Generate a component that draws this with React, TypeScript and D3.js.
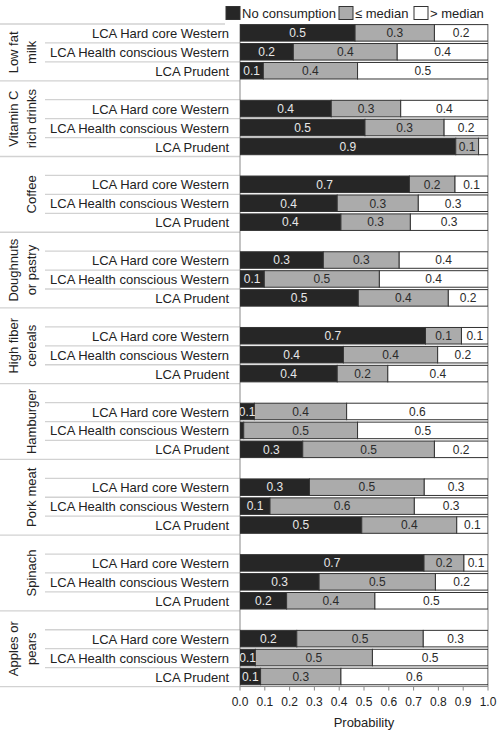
import React from "react";
import * as d3 from "d3";

const groupLabels: string[][] = [
  ["Low fat", "milk"],
  ["Vitamin C", "rich drinks"],
  ["Coffee"],
  ["Doughnuts", "or pastry"],
  ["High fiber", "cereals"],
  ["Hamburger"],
  ["Pork meat"],
  ["Spinach"],
  ["Apples or", "pears"],
];
const classes = ["LCA Hard core Western", "LCA Health conscious Western", "LCA Prudent"];
const seriesNames = ["No consumption", "≤ median", "> median"];

const noConsumption = [
  [0.464, 0.215, 0.094],
  [0.368, 0.504, 0.87],
  [0.683, 0.392, 0.407],
  [0.336, 0.098, 0.477],
  [0.748, 0.417, 0.392],
  [0.058, 0.015, 0.253],
  [0.28, 0.121, 0.491],
  [0.742, 0.319, 0.188],
  [0.229, 0.062, 0.083],
];
const leMedian = [
  [0.32, 0.419, 0.38],
  [0.28, 0.319, 0.092],
  [0.184, 0.327, 0.28],
  [0.306, 0.464, 0.363],
  [0.145, 0.38, 0.204],
  [0.372, 0.459, 0.531],
  [0.463, 0.582, 0.383],
  [0.161, 0.469, 0.356],
  [0.51, 0.472, 0.324],
];
const gtMedian = [
  [0.216, 0.366, 0.526],
  [0.352, 0.177, 0.038],
  [0.133, 0.281, 0.313],
  [0.358, 0.438, 0.16],
  [0.107, 0.203, 0.404],
  [0.57, 0.526, 0.216],
  [0.257, 0.297, 0.126],
  [0.097, 0.212, 0.456],
  [0.261, 0.466, 0.593],
];
const xTicks = [0, 0.1, 0.2, 0.3, 0.4, 0.5, 0.6, 0.7, 0.8, 0.9, 1.0];

const W = 498;
const H = 732;
const FONT = "'Liberation Sans', Arial, sans-serif";
const fills = ["#262626", "#ababab", "#ffffff"];

type Row = { key: string; g: number; c: number; blank: boolean };

export default function App() {
  const rows: Row[] = [];
  groupLabels.forEach((_, g) => {
    if (g > 0) rows.push({ key: `b${g}`, g, c: -1, blank: true });
    classes.forEach((_, c) => rows.push({ key: `r${g}_${c}`, g, c, blank: false }));
  });
  const top = 24;
  const rowH = 18.93;
  const bottom = top + rows.length * rowH;
  const y = d3.scaleBand<string>().domain(rows.map((r) => r.key)).range([top, bottom]).padding(0);
  const x = d3.scaleLinear().domain([0, 1]).range([240, 488]);

  const table = rows
    .filter((r) => !r.blank)
    .map((r) => ({
      key: r.key,
      s0: noConsumption[r.g][r.c],
      s1: leMedian[r.g][r.c],
      s2: gtMedian[r.g][r.c],
    }));
  const stack = d3.stack<any>().keys(["s0", "s1", "s2"])(table);
  const bw = y.bandwidth();
  const barH = bw - 2.4;

  // group spans
  const groupSpans = groupLabels.map((_, g) => {
    const rs = rows.filter((r) => r.g === g);
    const y0 = y(rs[0].key)!;
    const y1 = y(rs[rs.length - 1].key)! + bw;
    return { y0, y1 };
  });

  return (
    <svg width={W} height={H} style={{ position: "absolute", left: 0, top: 0, fontFamily: FONT }}>
      <rect width={W} height={H} fill="#fff" />
      {/* legend */}
      {(() => {
        const items = [
          { x: 226, tx: 242 },
          { x: 339, tx: 355 },
          { x: 414, tx: 430 },
        ];
        return items.map((it, i) => (
          <g key={i}>
            <rect x={it.x} y={6.5} width={14} height={13} fill={fills[i]} stroke="#333" strokeWidth={1} />
            <text x={it.tx} y={17.5} fontSize={13} fill="#222">
              {seriesNames[i]}
            </text>
          </g>
        ));
      })()}
      {/* row separator lines */}
      {rows.map((r, i) => {
        const yy = y(r.key)!;
        const isGroupTop = i === 0 || r.blank;
        return (
          <line
            key={"sep" + r.key}
            x1={isGroupTop ? 0 : 45}
            x2={i === 0 ? 225 : 240}
            y1={yy}
            y2={yy}
            stroke="#d2d2d2"
            strokeWidth={1.3}
          />
        );
      })}
      <line x1={0} x2={240} y1={bottom} y2={bottom} stroke="#d2d2d2" strokeWidth={1.3} />
      {/* row labels */}
      {rows
        .filter((r) => !r.blank)
        .map((r) => (
          <text
            key={"lab" + r.key}
            x={229}
            y={y(r.key)! + bw / 2 + 4.5}
            textAnchor="end"
            fontSize={13}
            fill="#222"
          >
            {classes[r.c]}
          </text>
        ))}
      {/* group labels */}
      {groupLabels.map((lines, g) => {
        const cy = (groupSpans[g].y0 + groupSpans[g].y1) / 2;
        const n = lines.length;
        return (
          <g key={"g" + g}>
            {lines.map((ln, k) => (
              <text
                key={k}
                transform={`translate(${36 - (n - 1 - k) * 18},${cy}) rotate(-90)`}
                textAnchor="middle"
                fontSize={13}
                fill="#222"
              >
                {ln}
              </text>
            ))}
          </g>
        );
      })}
      {/* plot frame */}
      <defs>
        <clipPath id="plotclip">
          <rect x={x(0)} y={top - 2} width={x(1) - x(0)} height={bottom - top + 4} />
        </clipPath>
      </defs>
      <line x1={x(0)} x2={x(0)} y1={top} y2={bottom} stroke="#888" strokeWidth={1} />
      <line x1={x(1)} x2={x(1)} y1={top} y2={bottom} stroke="#888" strokeWidth={1} />
      {/* bars */}
      <g clipPath="url(#plotclip)">
        {stack.map((s, si) =>
          s.map((d: any, j: number) => {
            const key = table[j].key;
            const x0 = x(d[0]);
            const x1 = x(d[1]);
            const yy = y(key)! + 0.6;
            return (
              <rect
                key={`b${si}_${j}`}
                x={x0}
                y={yy}
                width={Math.max(0, x1 - x0)}
                height={barH}
                fill={fills[si]}
                stroke="#333"
                strokeWidth={1}
              />
            );
          })
        )}
        {stack.map((s, si) =>
          s.map((d: any, j: number) => {
            const v = d[1] - d[0];
            if (v < 0.05) return null;
            const key = table[j].key;
            return (
              <text
                key={`t${si}_${j}`}
                x={(x(d[0]) + x(d[1])) / 2}
                y={y(key)! + 0.6 + barH / 2 + 4.3}
                textAnchor="middle"
                fontSize={12}
                fill={si === 0 ? "#e8e8e8" : "#2a2a2a"}
              >
                {v.toFixed(1)}
              </text>
            );
          })
        )}
      </g>
      {/* x axis */}
      <line x1={x(0)} x2={x(1)} y1={bottom} y2={bottom} stroke="#888" strokeWidth={1} />
      {xTicks.map((t) => (
        <g key={"xt" + t}>
          <line x1={x(t)} x2={x(t)} y1={bottom} y2={bottom + 4} stroke="#888" strokeWidth={1} />
          <text x={x(t)} y={bottom + 19} textAnchor="middle" fontSize={12} fill="#222">
            {t.toFixed(1)}
          </text>
        </g>
      ))}
      <text x={(x(0) + x(1)) / 2} y={bottom + 40} textAnchor="middle" fontSize={13} fill="#222">
        Probability
      </text>
    </svg>
  );
}
